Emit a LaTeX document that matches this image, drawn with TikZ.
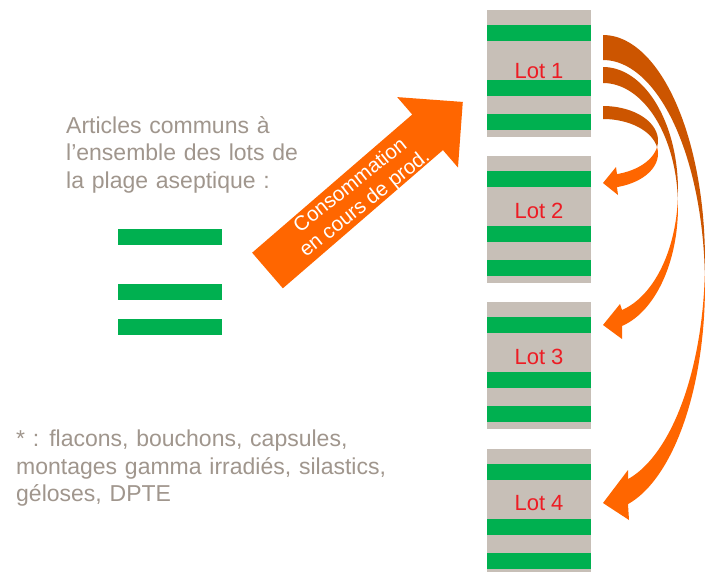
\documentclass[tikz,border=0pt]{standalone}
\usepackage{fontspec}
\setmainfont{Liberation Sans}
\usetikzlibrary{positioning}

\definecolor{lotgray}{RGB}{199,191,183}
\definecolor{lotgreen}{RGB}{0,176,80}
\definecolor{lotred}{RGB}{237,28,36}
\definecolor{textgray}{RGB}{160,150,141}
\definecolor{arroworange}{RGB}{255,102,0}
\definecolor{arrowdark}{RGB}{204,85,0}

% band between two ellipses, dark back part and bright front part with head
\newcommand{\curvedLotArrow}[6]{%
  \pgfmathsetmacro{\cya}{#1+#4}
  \pgfmathsetmacro{\cyb}{#1+#4+#2}
  \pgfmathsetmacro{\tcross}{asin(#2/(2*#4))}
  \pgfmathsetmacro{\tneck}{acos((#5-603)/#3)}
  \fill[arrowdark] plot[domain=-90:\tcross] ({603+#3*cos(\x)},{\cya+#4*sin(\x)})
    -- plot[domain=-\tcross:-90] ({603+#3*cos(\x)},{\cyb+#4*sin(\x)}) -- cycle;
  \fill[arroworange] plot[domain=\tcross:\tneck] ({603+#3*cos(\x)},{\cya+#4*sin(\x)})
    -- #6
    -- plot[domain=\tneck:-\tcross] ({603+#3*cos(\x)},{\cyb+#4*sin(\x)}) -- cycle;
}

\begin{document}
\begin{tikzpicture}[
    x=1pt, y=-1pt,
    samples=50,
    lot/.style={
      fill=lotgray,
      minimum width=104,
      minimum height=127,
      inner sep=0pt
    },
    lotlabel/.style={
      text=lotred,
      font=\fontsize{22}{26}\selectfont,
      inner sep=0pt
    },
    note/.style={
      text=textgray,
      align=left,
      anchor=north west,
      inner sep=0pt,
      font={\fontsize{23}{27.5}\selectfont\spaceskip 7.8pt\relax}
    },
    arrowtext/.style={
      text=white,
      align=center,
      inner sep=0pt,
      font=\fontsize{20.5}{23}\selectfont
    },
]
\useasboundingbox[fill=white] (0,0) rectangle (705,571);

% Lots
\foreach \n/\top/\ly in {1/10/71, 2/156/210.5, 3/302/356.5, 4/449/503} {
  \node[lot] (lot\n) at (539,\top+63.5) {};
  \foreach \off in {15,70,104}
    \fill[lotgreen] ([yshift=-\off]lot\n.north west) rectangle ([yshift=-\off-16]lot\n.north east);
  \node[lotlabel] (label\n) at (539,\ly) {Lot \n};
}

% Common items
\node[note] (common) at (66,116) {Articles communs à\\l’ensemble des lots de\\la plage aseptique :};
\foreach \y in {229,284,319}
  \fill[lotgreen] (118,\y) rectangle (222,\y+16);

\node[note] (items) at (16,430) {* : flacons, bouchons, capsules,\\montages gamma irradiés, silastics,\\géloses, DPTE};

% Consumption arrow
\begin{scope}[shift={(267.5,270.5)}, rotate=40.8]
  \fill[arroworange] (0,-23.5) -- (211.5,-23.5) -- (211.5,-46.5) -- (258,0)
    -- (211.5,46.5) -- (211.5,23.5) -- (0,23.5) -- cycle;
\end{scope}
\node[arrowtext, rotate=38.5] (consumption) at (358,195) {Consommation\\en cours de prod.};

% Curved arrows from Lot 1
\curvedLotArrow{106}{13}{55}{34.6}{617}{(616,167) -- (603,183) -- (618,195)}
\curvedLotArrow{67}{16}{75}{123.5}{622}{(620,304) -- (603,325) -- (622,339)}
\curvedLotArrow{35}{25}{102}{225.5}{628}{(628,470) -- (603,503) -- (629,520)}

\end{tikzpicture}
\end{document}
